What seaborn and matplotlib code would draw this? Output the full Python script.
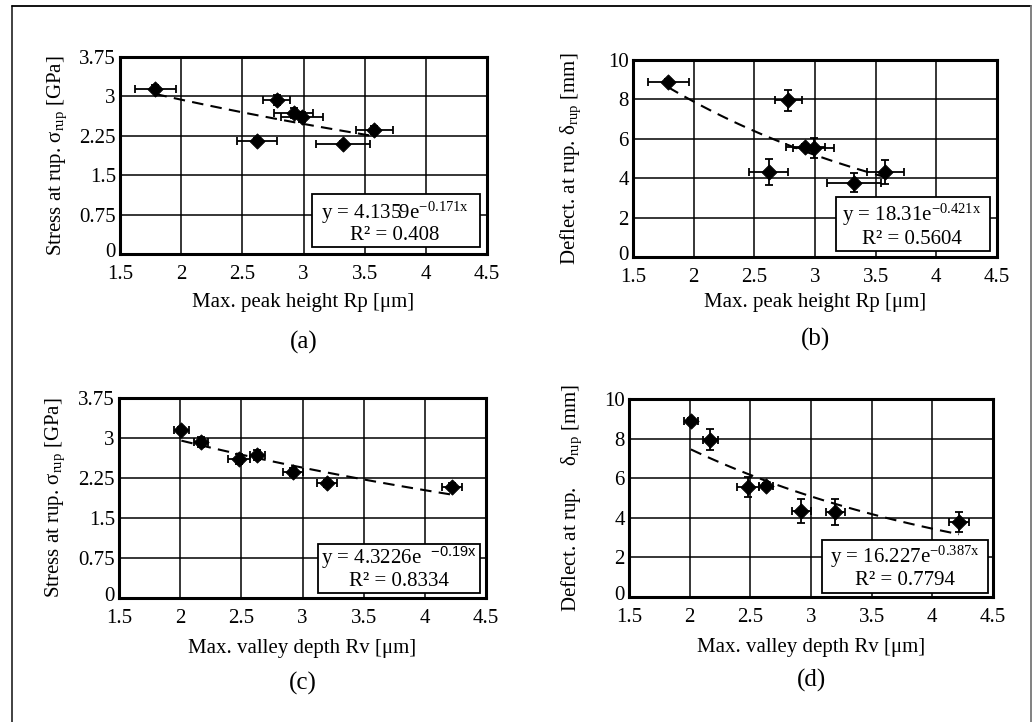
import matplotlib
matplotlib.use("Agg")
import matplotlib.pyplot as plt
from matplotlib.patches import Rectangle
from matplotlib.lines import Line2D
from matplotlib.transforms import ScaledTranslation
import numpy as np
import pandas as pd
import seaborn as sns

# one entry per specimen
rp = [1.79, 2.78, 2.92, 2.99, 2.62, 3.32, 3.58]
rp_err = [0.17, 0.11, 0.16, 0.17, 0.16, 0.22, 0.15]
rv = [2.01, 2.17, 2.63, 2.48, 3.20, 4.22, 2.92]
rv_err = [0.06, 0.06, 0.06, 0.09, 0.08, 0.08, 0.08]
stress = [3.15, 2.93, 2.68, 2.61, 2.15, 2.09, 2.36]
stress_err = [0.06, 0.09, 0.09, 0.09, 0.06, 0.06, 0.08]
defl = [8.9, 7.95, 5.6, 5.55, 4.3, 3.78, 4.33]
defl_err = [0.12, 0.55, 0.15, 0.5, 0.65, 0.5, 0.6]

# exponential trend lines y = a*exp(b*x), as printed on the chart
fit_a = [4.1359, 18.31, 4.3226, 16.227]
fit_b = [-0.171, -0.421, -0.19, -0.387]
eq_text = [
    "y = 4.1359e$^{\\mathrm{-0.171x}}$",
    "y = 18.31e$^{\\mathrm{-0.421x}}$",
    "y = 4.3226e  $^{\\mathsf{-0.19x}}$",
    "y = 16.227e$^{\\mathrm{-0.387x}}$",
]
r2_text = ["R² = 0.408", "R² = 0.5604", "R² = 0.8334", "R² = 0.7794"]

x_ticks = [1.5, 2, 2.5, 3, 3.5, 4, 4.5]
x_ticklabels = ["1.5", "2", "2.5", "3", "3.5", "4", "4.5"]
stress_ticks = [0, 0.75, 1.5, 2.25, 3, 3.75]
stress_ticklabels = ["0", "0.75", "1.5", "2.25", "3", "3.75"]
defl_ticks = [0, 2, 4, 6, 8, 10]
defl_ticklabels = ["0", "2", "4", "6", "8", "10"]

xlabel_rp = "Max. peak height Rp [μm]"
xlabel_rv = "Max. valley depth Rv [μm]"
ylabel_stress = "Stress at rup. σ$_{\\mathrm{rup}}$ [GPa]"
ylabel_defl = "Deflect. at rup. δ$_{\\mathrm{rup}}$ [mm]"
ylabel_defl_d = "Deflect. at rup.    δ$_{\\mathrm{rup}}$ [mm]"
letters = ["(a)", "(b)", "(c)", "(d)"]

sns.set_theme(style="white")
plt.rcParams["font.family"] = ["Liberation Serif", "DejaVu Serif"]
plt.rcParams["mathtext.fontset"] = "custom"
plt.rcParams["mathtext.rm"] = "Liberation Serif"
plt.rcParams["mathtext.it"] = "Liberation Serif:italic"
plt.rcParams["mathtext.sf"] = "Liberation Sans"

W, H = 1035, 722
fig = plt.figure(figsize=(W / 100, H / 100), dpi=100)
fig.patch.set_facecolor("white")


def px_rect(l, t, r, b):
    return [l / W, 1 - b / H, (r - l) / W, (b - t) / H]


panels = [
    dict(rect=px_rect(120, 57, 487, 254), x=rp, xe=rp_err, y=stress, ye=stress_err,
         xl=xlabel_rp, yl=ylabel_stress, yt=stress_ticks, ytl=stress_ticklabels, ymax=3.75,
         box=(0.523, 0.036, 0.981, 0.305), tx=0.749, ty=(0.208, 0.096),
         xlab_y=-0.245, let_y=-0.45, ylab_x=-0.172),
    dict(rect=px_rect(633, 60, 997, 257), x=rp, xe=rp_err, y=defl, ye=defl_err,
         xl=xlabel_rp, yl=ylabel_defl, yt=defl_ticks, ytl=defl_ticklabels, ymax=10,
         box=(0.558, 0.03, 0.981, 0.305), tx=0.766, ty=(0.213, 0.091),
         xlab_y=-0.23, let_y=-0.42, ylab_x=-0.17),
    dict(rect=px_rect(119, 398, 486, 598), x=rv, xe=rv_err, y=stress, ye=stress_err,
         xl=xlabel_rv, yl=ylabel_stress, yt=stress_ticks, ytl=stress_ticklabels, ymax=3.75,
         box=(0.542, 0.026, 0.985, 0.272), tx=0.763, ty=(0.2, 0.085),
         xlab_y=-0.25, let_y=-0.425, ylab_x=-0.175),
    dict(rect=px_rect(629, 399, 993, 597), x=rv, xe=rv_err, y=defl, ye=defl_err,
         xl=xlabel_rv, yl=ylabel_defl_d, yt=defl_ticks, ytl=defl_ticklabels, ymax=10,
         box=(0.53, 0.02, 0.985, 0.29), tx=0.758, ty=(0.205, 0.084),
         xlab_y=-0.255, let_y=-0.42, ylab_x=-0.157),
]

for i, p in enumerate(panels):
    ax = fig.add_axes(p["rect"])
    df = pd.DataFrame({"x": p["x"], "y": p["y"]})

    # trend line over the data range
    xs = np.linspace(min(p["x"]), max(p["x"]), 50)
    trend = pd.DataFrame({"x": xs, "y": fit_a[i] * np.exp(fit_b[i] * xs)})
    sns.lineplot(data=trend, x="x", y="y", ax=ax, color="black", lw=1.5,
                 dashes=False, zorder=3)
    ax.lines[-1].set_dashes((5.5, 3.5))

    ax.errorbar(p["x"], p["y"], xerr=p["xe"], yerr=p["ye"], fmt="none",
                ecolor="black", elinewidth=1.3, capsize=3, capthick=1.3, zorder=4)
    sns.scatterplot(data=df, x="x", y="y", ax=ax, marker="D", s=60,
                    color="black", edgecolor="black", zorder=5)

    ax.set_xlim(1.5, 4.5)
    ax.set_ylim(0, p["ymax"])
    ax.set_xticks(x_ticks)
    ax.set_xticklabels(x_ticklabels)
    ax.set_yticks(p["yt"])
    ax.set_yticklabels(p["ytl"])
    ax.tick_params(length=0, labelsize=15, colors="black")
    ax.tick_params(axis="x", pad=8)
    ax.tick_params(axis="y", pad=3)
    # the "0" sits a little above the corner, as in the original
    zero = ax.get_yticklabels()[0]
    zero.set_transform(zero.get_transform() + ScaledTranslation(0, 4 / 100, fig.dpi_scale_trans))
    ax.grid(True, color="black", lw=1.1)
    ax.set_axisbelow(True)
    for s in ax.spines.values():
        s.set_color("black")
        s.set_linewidth(2.2)

    ax.set_xlabel(p["xl"], fontsize=15, color="black")
    ax.set_ylabel(p["yl"], fontsize=15, color="black")
    ax.xaxis.set_label_coords(0.5, p["xlab_y"])
    ax.xaxis.label.set_va("center")
    ax.yaxis.set_label_coords(p["ylab_x"], 0.5)
    ax.yaxis.label.set_va("center")

    bx0, by0, bx1, by1 = p["box"]
    ax.add_patch(Rectangle((bx0, by0), bx1 - bx0, by1 - by0, transform=ax.transAxes,
                           fc="white", ec="black", lw=1.3, zorder=6))
    ax.text(p["tx"], p["ty"][0], eq_text[i], transform=ax.transAxes, ha="center",
            va="center", fontsize=15, color="black", zorder=7)
    ax.text(p["tx"], p["ty"][1], r2_text[i], transform=ax.transAxes, ha="center",
            va="center", fontsize=15, color="black", zorder=7)
    ax.text(0.5, p["let_y"], letters[i], transform=ax.transAxes, ha="center",
            va="center", fontsize=18, color="black")

# outer frame of the figure
fig.add_artist(Line2D([12 / W, 12 / W], [0, 1 - 6 / H], color="#333333", lw=1.3))
fig.add_artist(Line2D([12 / W, 1031 / W], [1 - 6 / H, 1 - 6 / H], color="black", lw=1.3))
fig.add_artist(Line2D([1031 / W, 1031 / W], [0, 1 - 6 / H], color="#777777", lw=1.3))

fig.savefig("out.png", dpi=100)
